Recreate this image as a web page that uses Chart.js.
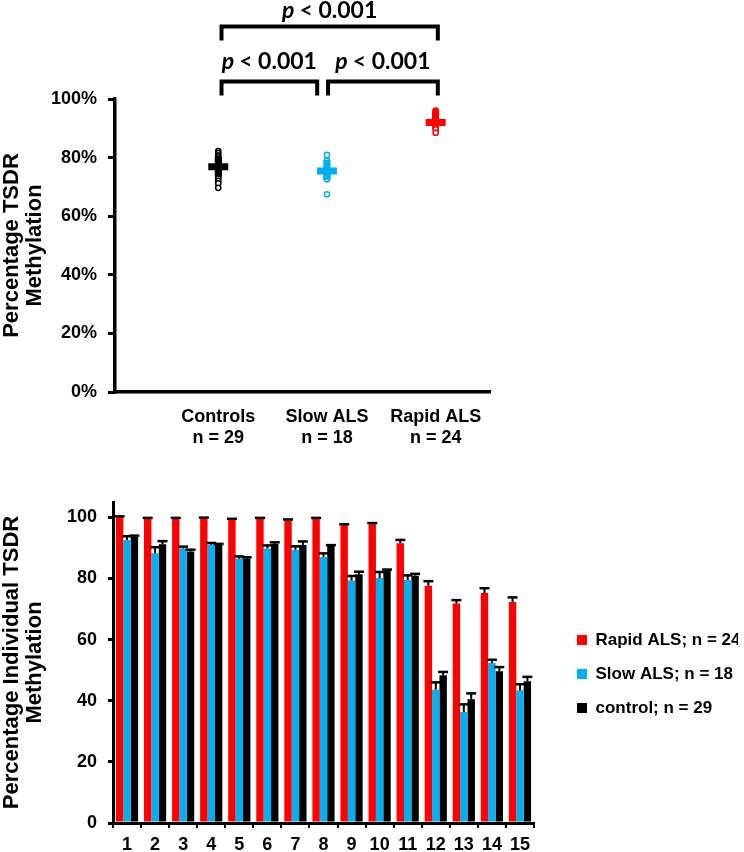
<!DOCTYPE html>
<html lang="en">
<head>
<meta charset="UTF-8">
<title>TSDR Methylation</title>
<script src="https://cdn.jsdelivr.net/npm/chart.js"></script>
<style>
    body { margin: 0; background: #fff; }
    #topChart { position: absolute; left: 0; top: 0; }
    #bottomChart { position: absolute; left: 0; top: 480px; }
</style>
</head>
<body>
<canvas id="topChart" width="744" height="480"></canvas>
<canvas id="bottomChart" width="744" height="372"></canvas>
<script>
    // --- top panel: individual values per group (%) ---
    const groups = ['Controls', 'Slow ALS', 'Rapid ALS'];
    const groupN = ['n = 29', 'n = 18', 'n = 24'];
    const controls = [82.2, 81.5, 80.8, 80.2, 79.6, 79.2, 78.8, 78.4, 78.1, 77.8, 77.5, 77.2, 77.0, 76.8, 76.6,
        76.4, 76.2, 76.0, 75.7, 75.4, 75.1, 74.8, 74.5, 74.0, 73.4, 72.9, 72.1, 71.2, 69.7];
    const slowALS = [80.9, 79.0, 78.2, 77.5, 76.9, 76.4, 76.0, 75.6, 75.3, 75.0, 74.7, 74.4, 74.0, 73.6, 73.2,
        72.9, 72.6, 67.5];
    const rapidALS = [96.0, 95.5, 95.0, 94.6, 94.2, 93.9, 93.6, 93.3, 93.0, 92.8, 92.6, 92.4, 92.2, 92.0, 91.8,
        91.6, 91.4, 91.2, 91.0, 90.8, 90.6, 90.3, 89.6, 88.5];
    const groupMean = [76.9, 75.4, 92.0];
    const errUp = [3.4, 3.8, 4.2];
    const errDown = [3.4, 3.0, 1.0];
    // comparison brackets: [from x, to x] on the group axis (1..3)
    const brackets = [[1.03, 1.91], [2.01, 3.02], [1.03, 3.02]];
    const pValue = '< 0.001';

    // --- bottom panel: individual CpG sites ---
    const sites = ['1', '2', '3', '4', '5', '6', '7', '8', '9', '10', '11', '12', '13', '14', '15'];
    const rapidMean = [100, 99.5, 99.5, 99.6, 99.2, 99.5, 99.0, 99.5, 97.3, 97.7, 91.5, 77.6, 71.8, 75.2, 72.3];
    const rapidErr = [0.3, 0.3, 0.3, 0.3, 0.3, 0.3, 0.3, 0.3, 0.4, 0.4, 1.1, 1.5, 1.1, 1.6, 1.5];
    const slowMean = [92.6, 88.2, 89.8, 91.0, 86.4, 89.8, 89.3, 87.0, 79.3, 80.1, 79.5, 43.6, 36.3, 52.3, 43.4];
    const slowErr = [1.2, 2.0, 0.6, 0.6, 0.8, 1.0, 1.2, 1.2, 1.5, 2.0, 1.5, 2.4, 2.5, 1.1, 2.0];
    const controlMean = [93.6, 91.2, 88.8, 90.9, 86.5, 91.3, 90.9, 90.6, 81.4, 82.6, 80.9, 48.3, 40.5, 49.6, 46.4];
    const controlErr = [0.4, 1.0, 0.6, 0.4, 0.4, 0.5, 1.2, 0.3, 0.8, 0.3, 0.6, 1.1, 1.9, 1.4, 1.4];

    const black = '#000000', blue = '#00B0F0', red = '#FF0000';
    const groupColors = [black, blue, red];

    Chart.defaults.color = '#000';
    const fam = '"Liberation Sans", Arial, sans-serif';
    const tickFont = { family: fam, size: 18, weight: 'bold' };
    const titleFont = { family: fam, size: 22, weight: 'bold', lineHeight: 1.05 };

    function points(vals, x) {
        return vals.map(v => ({ x: x, y: v }));
    }

    // mean +/- SD crosses, brackets and p values
    const topMarks = {
        id: 'topMarks',
        afterDatasetsDraw(chart) {
            const { ctx, chartArea, scales: { x, y } } = chart;
            ctx.save();
            ctx.lineWidth = 7;
            groupMean.forEach((m, i) => {
                const px = x.getPixelForValue(i + 1);
                const py = y.getPixelForValue(m);
                ctx.strokeStyle = groupColors[i];
                ctx.beginPath();
                ctx.moveTo(px, y.getPixelForValue(m + errUp[i]));
                ctx.lineTo(px, y.getPixelForValue(m - errDown[i]));
                ctx.moveTo(px - 10, py);
                ctx.lineTo(px + 10, py);
                ctx.stroke();
            });

            ctx.strokeStyle = '#000';
            ctx.fillStyle = '#000';
            ctx.lineWidth = 4;
            ctx.textBaseline = 'middle';
            brackets.forEach(([a, b], i) => {
                const lineY = chartArea.top - (i === 2 ? 72.5 : 17.5);
                const textY = chartArea.top - (i === 2 ? 88.5 : 37);
                const x1 = x.getPixelForValue(a);
                const x2 = x.getPixelForValue(b);
                ctx.beginPath();
                ctx.moveTo(x1, lineY + 14);
                ctx.lineTo(x1, lineY);
                ctx.lineTo(x2, lineY);
                ctx.lineTo(x2, lineY + 14);
                ctx.stroke();

                const italic = 'italic bold 23px Lato, "Open Sans", sans-serif';
                const plain = 'bold 23px Lato, "Open Sans", sans-serif';
                ctx.font = italic;
                const wp = ctx.measureText('p ').width;
                ctx.font = plain;
                const wr = ctx.measureText(pValue).width;
                const start = (x1 + x2) / 2 - (wp + wr) / 2;
                ctx.textAlign = 'left';
                ctx.font = italic;
                ctx.fillText('p', start, textY);
                ctx.font = plain;
                ctx.fillText(pValue, start + wp, textY);
            });
            ctx.restore();
        }
    };

    new Chart(document.getElementById('topChart'), {
        type: 'scatter',
        data: {
            datasets: [
                { data: points(controls, 1), borderColor: black },
                { data: points(slowALS, 2), borderColor: blue },
                { data: points(rapidALS, 3), borderColor: red }
            ]
        },
        options: {
            responsive: false,
            animation: false,
            layout: { padding: { top: 99, right: 254, left: 0, bottom: 0 } },
            elements: { point: { radius: 2.6, borderWidth: 1.5, backgroundColor: '#fff' } },
            plugins: { legend: { display: false }, tooltip: { enabled: false } },
            scales: {
                x: {
                    type: 'linear',
                    min: 0.05,
                    max: 3.5,
                    afterBuildTicks(s) { s.ticks = groups.map((g, i) => ({ value: i + 1 })); },
                    ticks: {
                        font: tickFont,
                        padding: 14,
                        callback: (v, i) => [groups[i], groupN[i]]
                    },
                    grid: { drawOnChartArea: false, drawTicks: false },
                    border: { color: '#000', width: 3.5 },
                    afterFit(s) { s.height = 88; }
                },
                y: {
                    min: 0,
                    max: 100,
                    ticks: { stepSize: 20, font: tickFont, padding: 11, callback: v => v + '%' },
                    grid: { drawOnChartArea: false, tickLength: 7, lineWidth: 3, color: '#000' },
                    border: { color: '#000', width: 3.5 },
                    title: {
                        display: true,
                        text: ['Percentage TSDR', 'Methylation'],
                        font: titleFont,
                        padding: 0
                    },
                    afterFit(s) { s.width = 115; }
                }
            }
        },
        plugins: [topMarks]
    });

    // error bars (upper only) for the grouped bars
    const errorBars = {
        id: 'errorBars',
        afterDatasetsDraw(chart) {
            const { ctx, scales: { y } } = chart;
            ctx.save();
            ctx.strokeStyle = '#000';
            chart.data.datasets.forEach((ds, di) => {
                chart.getDatasetMeta(di).data.forEach((bar, i) => {
                    const top = y.getPixelForValue(ds.data[i] + ds.err[i]);
                    ctx.lineWidth = 2;
                    ctx.beginPath();
                    ctx.moveTo(bar.x, bar.y);
                    ctx.lineTo(bar.x, top);
                    ctx.stroke();
                    ctx.lineWidth = 2.5;
                    ctx.beginPath();
                    ctx.moveTo(bar.x - 5, top);
                    ctx.lineTo(bar.x + 5, top);
                    ctx.stroke();
                });
            });
            ctx.restore();
        }
    };

    // push the legend a little away from the plot
    const legendShift = {
        id: 'legendShift',
        afterLayout(chart) {
            const l = chart.legend;
            l.left += 26; l.right += 26;
            l.top += 11.5; l.bottom += 11.5;
        }
    };

    new Chart(document.getElementById('bottomChart'), {
        type: 'bar',
        data: {
            labels: sites,
            datasets: [
                { label: 'Rapid ALS; n = 24', data: rapidMean, err: rapidErr, backgroundColor: red },
                { label: 'Slow ALS; n = 18', data: slowMean, err: slowErr, backgroundColor: blue },
                { label: 'control; n = 29', data: controlMean, err: controlErr, backgroundColor: black }
            ]
        },
        options: {
            responsive: false,
            animation: false,
            layout: { padding: { top: 22, right: 32, left: 0, bottom: 0 } },
            datasets: { bar: { categoryPercentage: 0.79, barPercentage: 1 } },
            plugins: {
                tooltip: { enabled: false },
                legend: {
                    position: 'right',
                    fullSize: false,
                    labels: {
                        boxWidth: 10,
                        boxHeight: 10,
                        padding: 17,
                        color: '#000',
                        font: { family: fam, size: 17, weight: 'bold' }
                    }
                }
            },
            scales: {
                x: {
                    ticks: { font: tickFont, padding: 6 },
                    grid: { drawOnChartArea: false, tickLength: 5, lineWidth: 2, color: '#000' },
                    border: { color: '#000', width: 3 },
                    afterFit(s) { s.height = 29; }
                },
                y: {
                    min: 0,
                    max: 105,
                    ticks: { stepSize: 20, includeBounds: false, font: tickFont, padding: 11 },
                    grid: { drawOnChartArea: false, tickLength: 5, lineWidth: 3, color: '#000' },
                    border: { color: '#000', width: 3 },
                    title: {
                        display: true,
                        text: ['Percentage Individual TSDR', 'Methylation'],
                        font: titleFont,
                        padding: 0
                    },
                    afterFit(s) { s.width = 113; }
                }
            }
        },
        plugins: [errorBars, legendShift]
    });
</script>
</body>
</html>
